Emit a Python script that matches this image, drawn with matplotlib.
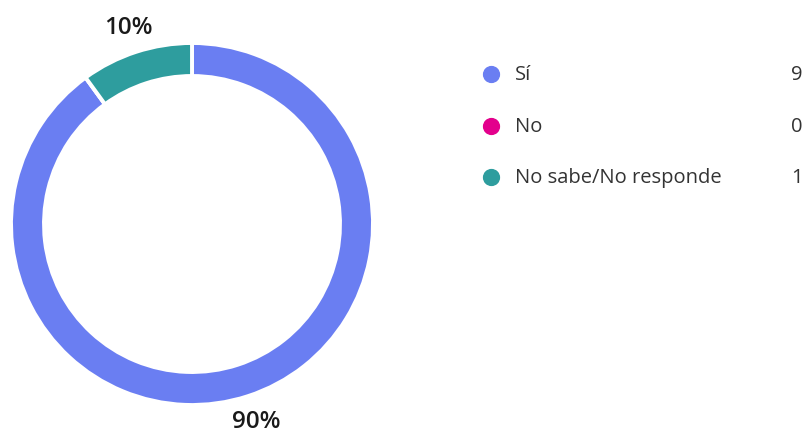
import matplotlib
matplotlib.use('Agg')
import matplotlib.pyplot as plt

labels = ['Sí', 'No', 'No sabe/No responde']
counts = [9, 0, 1]
colors = ['#6A7EF2', '#E3008C', '#2E9D9E']

plt.rcParams['font.family'] = ['Open Sans', 'DejaVu Sans']

fig = plt.figure(figsize=(8.06, 4.35), dpi=100)
ax = fig.add_axes([0, 0, 1, 1])


def fmt(pct):
  if pct < 0.5:
    return ''
  return '%d%%' % round(pct)


wedges, texts, autotexts = ax.pie(counts, colors=colors, startangle=90, counterclock=False,
                                  center=(192, 210), radius=181, autopct=fmt, pctdistance=1.145,
                                  wedgeprops=dict(width=33, edgecolor='white', linewidth=2.8))
for t in autotexts:
  t.set_fontsize(17.5)
  t.set_fontweight('semibold')
  t.set_color('#1a1a1a')

ax.set_xlim(0, 806)
ax.set_ylim(0, 435)
ax.set_aspect('equal')
ax.axis('off')

# legend
row_y = [435 - 75, 435 - 127, 435 - 178]
for lab, c, col, y in zip(labels, counts, colors, row_y):
  ax.scatter([491], [y], s=130, color=col, zorder=3)
  ax.text(515, y, lab, fontsize=14.5, color='#333333', va='center', ha='left')
  ax.text(803, y, str(c), fontsize=14.5, color='#333333', va='center', ha='right')

fig.savefig('out.png', dpi=100)
